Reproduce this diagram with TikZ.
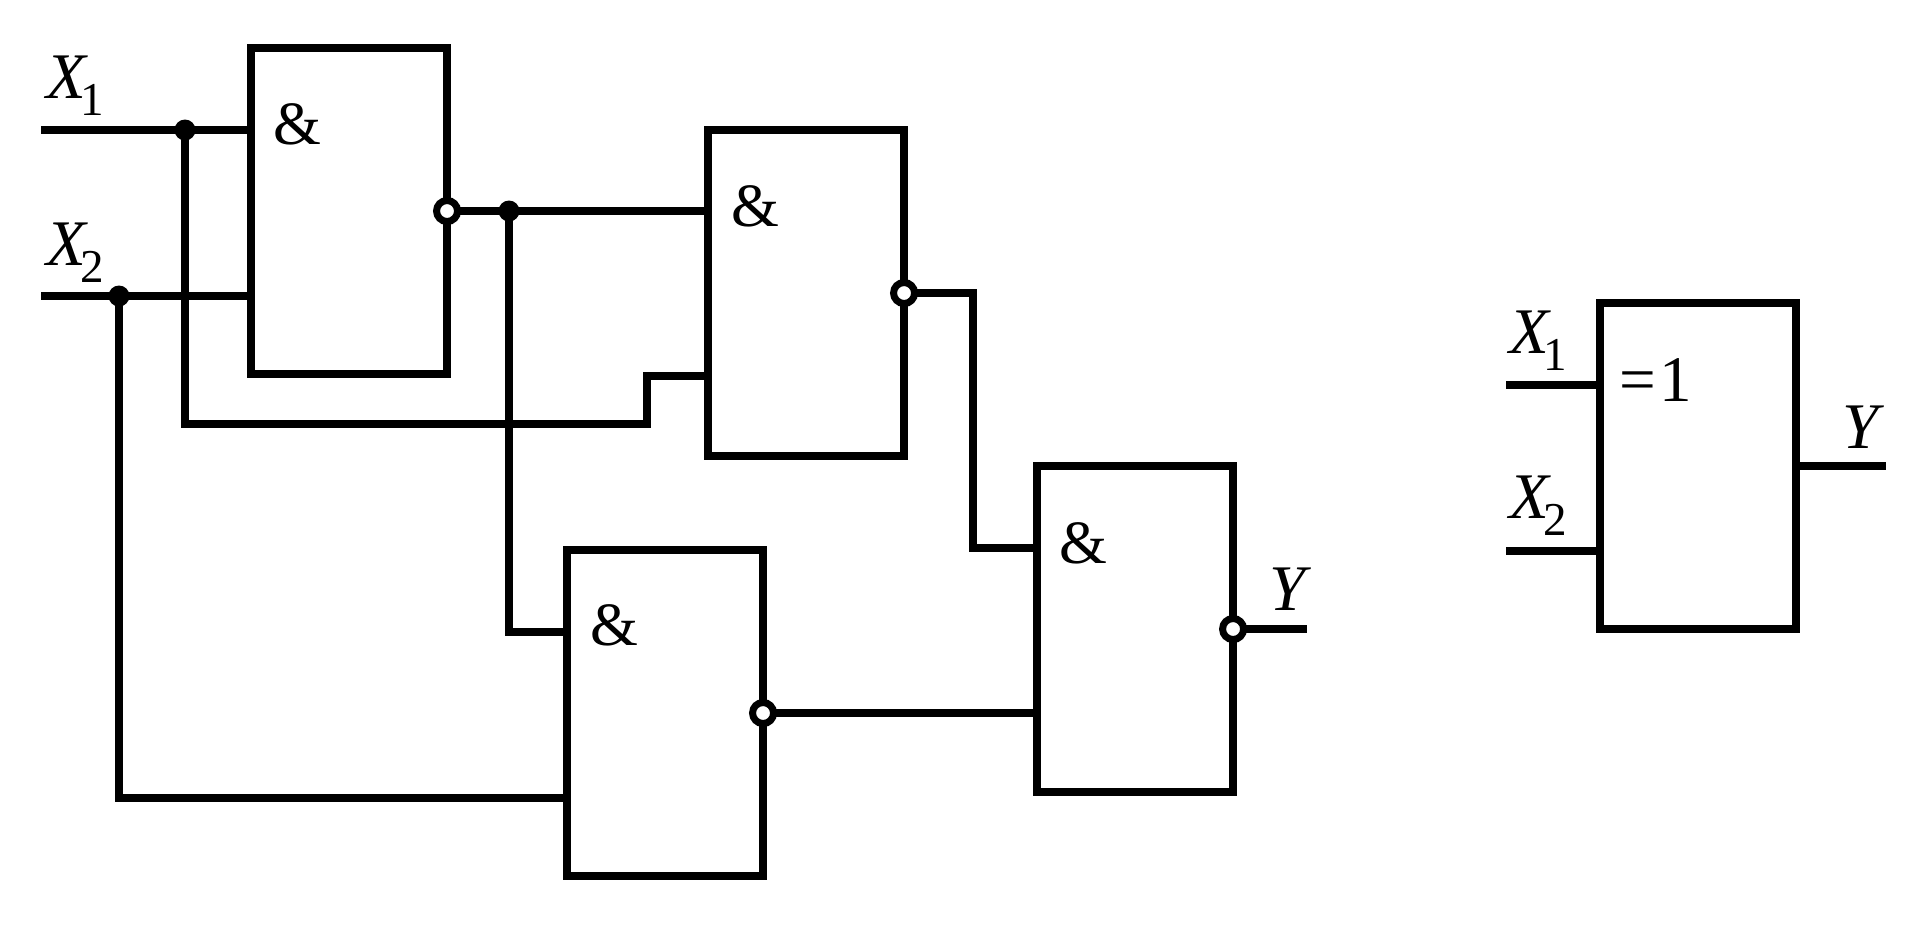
\documentclass[tikz,border=0pt]{standalone}
\usepackage{fontspec}
\setmainfont{Liberation Serif}
\newcommand{\sigsub}[2]{\textit{#1}\kern-2.1pt\raisebox{-5pt}{\fontsize{13.4}{14}\selectfont #2}}
\begin{document}
\begin{tikzpicture}[x=0.01cm,y=-0.01cm,line width=0.08cm]
	\tikzstyle{gate}=[rectangle,draw=black,minimum width=1.96cm,minimum height=3.26cm,inner sep=0pt,outer sep=0pt]
	\tikzstyle{bubble}=[circle,draw=black,fill=white,minimum size=0.21cm,inner sep=0pt,line width=0.07cm]
	\tikzstyle{joint}=[circle,fill=black,minimum size=0.21cm,inner sep=0pt]
	\tikzstyle{lab}=[anchor=base west,inner sep=0pt,font=\fontsize{18.5}{20}\selectfont]
	\useasboundingbox (0,0) rectangle (1925,938);
	\node[gate] (1) at (349,211) {};
	\node[gate] (2) at (806,293) {};
	\node[gate] (3) at (665,713) {};
	\node[gate] (4) at (1135,629) {};
	\node[gate] (5) at (1698,466) {};
	\node[lab,font=\fontsize{17.5}{20}\selectfont] (a1) at (269,144) {\&};
	\node[lab,font=\fontsize{17.5}{20}\selectfont] (a2) at (727,226) {\&};
	\node[lab,font=\fontsize{17.5}{20}\selectfont] (a3) at (586,645) {\&};
	\node[lab,font=\fontsize{17.5}{20}\selectfont] (a4) at (1055,563) {\&};
	\node[lab] (a5) at (1615,401) {=\kern1pt 1};
	\coordinate (x1) at (41,130);
	\coordinate (x2) at (41,296);
	\coordinate (p1) at (251,130);
	\coordinate (p2) at (251,296);
	\coordinate (p3) at (708,211);
	\coordinate (p4) at (708,376);
	\coordinate (p5) at (567,632);
	\coordinate (p6) at (567,798);
	\coordinate (p7) at (1037,548);
	\coordinate (p8) at (1037,713);
	\coordinate (p9) at (1600,385);
	\coordinate (p10) at (1600,551);
	\coordinate (x3) at (1506,385);
	\coordinate (x4) at (1506,551);
	\coordinate (y1) at (1307,629);
	\coordinate (y2) at (1886,466);
	\coordinate (b1) at (647,424);
	\coordinate (b2) at (647,376);
	\coordinate (b3) at (973,293);
	\coordinate (b4) at (973,548);
	\node[joint] (j1) at (185,130) {};
	\node[joint] (j2) at (119,296) {};
	\node[joint] (j3) at (509,211) {};
	\draw (x1) -- (p1);
	\draw (x2) -- (p2);
	\draw (j1.center) |- (b1) -- (b2) -- (p4);
	\draw (j2.center) |- (p6);
	\draw (j3.center) |- (p5);
	\draw (1.east) -- (p3);
	\draw (2.east) -- (b3) -- (b4) -- (p7);
	\draw (3.east) -- (p8);
	\draw (4.east) -- (y1);
	\draw (x3) -- (p9);
	\draw (x4) -- (p10);
	\draw (5.east) -- (y2);
	\node[bubble] (n1) at (1.east) {};
	\node[bubble] (n2) at (2.east) {};
	\node[bubble] (n3) at (3.east) {};
	\node[bubble] (n4) at (4.east) {};
	\node[lab] (l1) at (42,98) {\sigsub{X}{1}};
	\node[lab] (l2) at (42,265) {\sigsub{X}{2}};
	\node[lab] (l3) at (1265,610) {\textit{Y}};
	\node[lab] (l4) at (1505,353) {\sigsub{X}{1}};
	\node[lab] (l5) at (1505,518) {\sigsub{X}{2}};
	\node[lab] (l6) at (1838,448) {\textit{Y}};
\end{tikzpicture}
\end{document}
